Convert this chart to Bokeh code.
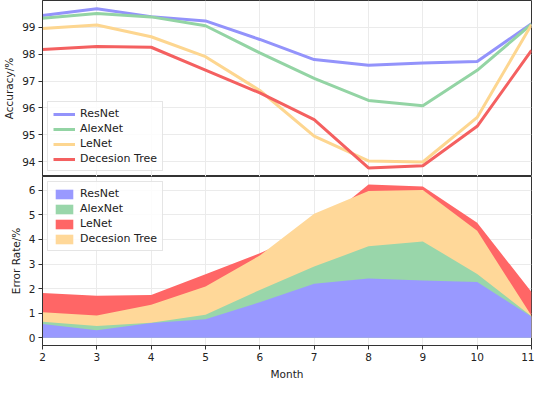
from bokeh.plotting import figure
from bokeh.layouts import column
from bokeh.models import Range1d, Legend, LegendItem, ColumnDataSource, FixedTicker
from bokeh.embed import file_html
from bokeh.resources import INLINE

months = [2, 3, 4, 5, 6, 7, 8, 9, 10, 11]
resnet_acc = [99.44, 99.69, 99.40, 99.24, 98.55, 97.80, 97.59, 97.67, 97.73, 99.14]
alexnet_acc = [99.34, 99.52, 99.39, 99.06, 98.05, 97.10, 96.28, 96.08, 97.40, 99.12]
lenet_acc = [98.96, 99.09, 98.65, 97.91, 96.65, 94.95, 94.03, 93.99, 95.65, 99.10]
dtree_acc = [98.18, 98.29, 98.26, 97.41, 96.56, 95.57, 93.77, 93.85, 95.32, 98.14]

names = ["ResNet", "AlexNet", "LeNet", "Decesion Tree"]
err_legend_names = ["ResNet", "AlexNet", "LeNet", "Decesion Tree"]
acc_ticks = [94, 95, 96, 97, 98, 99]
err_ticks = [0, 1, 2, 3, 4, 5, 6]
x_ticks = months

BLUE = "#9393fb"
GREEN = "#93d4a4"
YELLOW = "#fdd690"
RED = "#f46060"
FILL_BLUE = "#9999ff"
FILL_GREEN = "#99d6aa"
FILL_YELLOW = "#ffd899"
FILL_RED = "#ff6666"

src = ColumnDataSource(dict(
    month=months,
    resnet=resnet_acc, alexnet=alexnet_acc, lenet=lenet_acc, dtree=dtree_acc,
    resnet_err=[100 - v for v in resnet_acc],
    alexnet_err=[100 - v for v in alexnet_acc],
    lenet_err=[100 - v for v in lenet_acc],
    dtree_err=[100 - v for v in dtree_acc],
    zero=[0] * len(months),
))

FONT = "DejaVu Sans"
W = 534
xr = Range1d(2, 11)


def style(p):
    p.outline_line_color = "#333333"
    p.outline_line_width = 1
    p.grid.grid_line_color = "#ebebeb"
    p.grid.grid_line_width = 1
    for ax in p.xaxis + p.yaxis:
        ax.axis_line_color = "#333333"
        ax.major_tick_line_color = "#333333"
        ax.major_tick_in = 0
        ax.major_tick_out = 4
        ax.minor_tick_line_color = None
        ax.major_label_text_font = FONT
        ax.major_label_text_font_size = "10.5px"
        ax.major_label_text_color = "#222222"
        ax.axis_label_text_font = FONT
        ax.axis_label_text_font_size = "10.5px"
        ax.axis_label_text_font_style = "normal"
        ax.axis_label_text_color = "#222222"
        ax.major_label_standoff = 3
        ax.axis_label_standoff = 4


def style_legend(lg, loc):
    lg.location = loc
    lg.label_text_font = FONT
    lg.label_text_font_size = "11px"
    lg.label_text_color = "#222222"
    lg.label_height = 13
    lg.glyph_height = 12
    lg.glyph_width = 22
    lg.spacing = 2
    lg.padding = 5
    lg.margin = 5
    lg.border_line_color = "#cccccc"
    lg.background_fill_alpha = 0.85


# Top: accuracy
p1 = figure(width=W, height=176, x_range=xr, y_range=Range1d(93.45, 100.0),
            output_backend="svg", toolbar_location=None,
            min_border_left=40, min_border_right=3, min_border_top=0, min_border_bottom=0)
p1.line("month", "resnet", source=src, color=BLUE, line_width=3, legend_label=names[0])
p1.line("month", "alexnet", source=src, color=GREEN, line_width=3, legend_label=names[1])
p1.line("month", "lenet", source=src, color=YELLOW, line_width=3, legend_label=names[2])
p1.line("month", "dtree", source=src, color=RED, line_width=3, legend_label=names[3])
p1.yaxis.ticker = FixedTicker(ticks=acc_ticks)
p1.xaxis.ticker = FixedTicker(ticks=x_ticks)
p1.xaxis.visible = False
p1.yaxis.axis_label = "Accuracy/%"
style(p1)
style_legend(p1.legend[0], "bottom_left")

# Bottom: error rate
p2 = figure(width=W, height=206, x_range=xr, y_range=Range1d(-0.31, 6.56),
            output_backend="svg", toolbar_location=None,
            min_border_left=40, min_border_right=3, min_border_top=0, min_border_bottom=0)
r_red = p2.varea(x="month", y1="zero", y2="dtree_err", source=src, fill_color=FILL_RED)
r_yel = p2.varea(x="month", y1="zero", y2="lenet_err", source=src, fill_color=FILL_YELLOW)
r_grn = p2.varea(x="month", y1="zero", y2="alexnet_err", source=src, fill_color=FILL_GREEN)
r_blu = p2.varea(x="month", y1="zero", y2="resnet_err", source=src, fill_color=FILL_BLUE)
p2.yaxis.ticker = FixedTicker(ticks=err_ticks)
p2.xaxis.ticker = FixedTicker(ticks=x_ticks)
p2.xaxis.axis_label = "Month"
p2.yaxis.axis_label = "Error Rate/%"
style(p2)
lg2 = Legend(items=[
    LegendItem(label=err_legend_names[0], renderers=[r_blu]),
    LegendItem(label=err_legend_names[1], renderers=[r_grn]),
    LegendItem(label=err_legend_names[2], renderers=[r_red]),
    LegendItem(label=err_legend_names[3], renderers=[r_yel]),
])
style_legend(lg2, "top_left")
p2.add_layout(lg2, "center")

layout = column(p1, p2, spacing=0)
open("out.html", "w").write(file_html(layout, INLINE))
